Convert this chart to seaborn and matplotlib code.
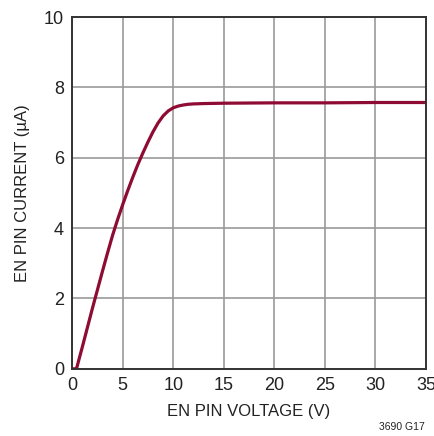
import matplotlib
matplotlib.use("Agg")
import matplotlib.pyplot as plt
import seaborn as sns
import pandas as pd
from matplotlib import font_manager

voltage = [0.0, 0.3, 0.45, 0.7, 1.0, 1.5, 2.0, 2.5, 3.0, 3.5, 4.0, 4.5, 5.0, 5.5, 6.0, 6.5, 7.0,
           7.5, 8.0, 8.5, 9.0, 9.5, 10.0, 10.5, 11.0, 11.5, 12.0, 13.0, 15.0, 20.0, 25.0, 30.0, 35.0]
current = [0.0, 0.0, 0.03, 0.3, 0.62, 1.17, 1.72, 2.25, 2.78, 3.3, 3.8, 4.25, 4.67, 5.07, 5.45, 5.81, 6.14,
           6.45, 6.74, 6.99, 7.19, 7.33, 7.42, 7.47, 7.5, 7.52, 7.53, 7.54, 7.55, 7.56, 7.56, 7.57, 7.57]
x_ticks = [0, 5, 10, 15, 20, 25, 30, 35]
y_ticks = [0, 2, 4, 6, 8, 10]

df = pd.DataFrame({"V": voltage, "I": current})

sns.set_theme(style="white")
names = {f.name for f in font_manager.fontManager.ttflist}
fam = "Liberation Sans Narrow" if "Liberation Sans Narrow" in names else "Liberation Sans"
plt.rcParams["font.family"] = [fam, "DejaVu Sans"]

fig = plt.figure(figsize=(4.35, 4.36), dpi=100)
ax = fig.add_axes([0.166, 0.154, 0.813, 0.807])

sns.lineplot(data=df, x="V", y="I", ax=ax, color="#8E0B33", linewidth=2.3)

ax.set_xlim(0, 35)
ax.set_ylim(0, 10)
ax.set_xticks(x_ticks)
ax.set_yticks(y_ticks)
ax.grid(True, color="#999999", linewidth=1.2)
ax.set_axisbelow(True)
for s in ax.spines.values():
    s.set_color("#333333")
    s.set_linewidth(1.4)
    s.set_visible(True)
ax.tick_params(length=0, labelsize=13, colors="#222222", pad=6)
ax.set_xlabel("EN PIN VOLTAGE (V)", fontsize=12, color="#222222", labelpad=7)
ax.set_ylabel("EN PIN CURRENT (µA)", fontsize=12, color="#222222", labelpad=10)
fig.text(0.977, 0.01, "3690 G17", ha="right", va="bottom", fontsize=7.5, color="#222222")

fig.savefig("out.png", dpi=100)
